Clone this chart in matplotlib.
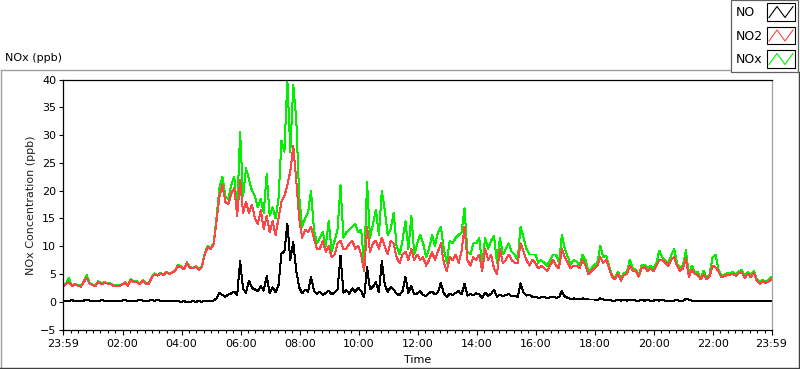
import matplotlib
matplotlib.use('Agg')
import matplotlib.pyplot as plt
import numpy as np
from matplotlib.lines import Line2D
from matplotlib.patches import Rectangle

# samples every 6 minutes, starting at 23:59
step_minutes = 6

no = [0.1, 0.2, 0.1, 0.3, 0.1, 0.2, 0.1, 0.2, 0.4, 0.2,
      0.1, 0.2, 0.1, 0.3, 0.2, 0.1, 0.2, 0.1, 0.2, 0.1,
      0.2, 0.3, 0.1, 0.2, 0.1, 0.2, 0.3, 0.2, 0.1, 0.2,
      0.3, 0.2, 0.3, 0.2, 0.1, 0.2, 0.2, 0.1, 0.2, 0.1,
      0.0, 0.1, -0.1, 0.0, 0.1, 0.0, 0.1, 0.0, 0.1, 0.2,
      0.1, 0.2, 0.6, 1.6, 1.2, 0.9, 1.3, 1.5, 1.8, 1.2,
      7.3, 2.3, 1.6, 3.8, 2.5, 2.2, 1.9, 2.8, 2.0, 4.6,
      1.5, 2.6, 1.7, 3.0, 8.7, 9.0, 14.0, 7.5, 10.7, 5.6,
      2.6, 1.5, 2.2, 1.8, 4.5, 2.0, 1.4, 1.8, 1.2, 1.6,
      2.0, 1.3, 1.7, 2.2, 8.3, 1.6, 2.1, 1.4, 2.4, 1.8,
      2.5, 1.9, 0.8, 6.2, 2.2, 2.7, 3.5, 1.7, 7.3, 3.0,
      1.8, 2.6, 2.2, 1.4, 1.2, 1.9, 4.5, 1.6, 2.8, 1.3,
      1.5, 1.9, 1.2, 1.0, 1.6, 1.8, 1.3, 1.7, 3.4, 1.5,
      0.9, 1.4, 1.2, 1.6, 1.9, 1.3, 3.2, 1.1, 1.4, 1.2,
      1.5, 1.3, 0.7, 1.6, 1.1, 1.4, 2.2, 0.9, 1.3, 1.0,
      1.2, 1.4, 1.0, 1.1, 0.8, 3.3, 1.6, 1.1, 1.3, 0.9,
      0.9, 0.7, 0.8, 0.9, 0.6, 0.8, 0.9, 0.7, 0.8, 1.9,
      0.9, 0.7, 0.5, 0.6, 0.5, 0.4, 0.6, 0.5, 0.4, 0.4,
      0.4, 0.3, 0.6, 0.4, 0.3, 0.3, 0.2, 0.2, 0.3, 0.2,
      0.3, 0.2, 0.4, 0.3, 0.2, 0.2, 0.3, 0.2, 0.3, 0.2,
      0.2, 0.3, 0.2, 0.3, 0.2, 0.2, 0.1, 0.2, 0.3, 0.1,
      0.2, 0.5, 0.4, 0.2, 0.1, 0.2, 0.1, 0.2, 0.1, 0.2,
      0.1, 0.2, 0.1, 0.1, 0.2, 0.1, 0.1, 0.2, 0.1, 0.1,
      0.2, 0.1, 0.1, 0.2, 0.1, 0.1, 0.1, 0.2, 0.1, 0.1, 0.1]

no2 = [2.8, 3.2, 3.6, 2.8, 3.1, 2.9, 2.7, 3.5, 4.3, 3.3,
       3.0, 2.8, 3.6, 3.1, 3.4, 3.3, 3.2, 2.9, 2.9, 2.8,
       3.0, 3.4, 2.9, 4.0, 3.5, 3.6, 3.1, 3.8, 3.3, 3.1,
       4.3, 4.9, 4.7, 5.1, 4.8, 5.3, 5.0, 5.2, 5.6, 6.4,
       6.3, 5.8, 7.0, 6.1, 6.0, 6.3, 5.7, 6.2, 8.5, 9.8,
       9.5, 10.3, 14.5, 19.0, 21.0, 18.0, 17.5, 19.5, 20.5, 15.5,
       22.0, 16.0, 18.0, 16.0, 17.5, 15.0, 14.0, 16.5, 13.0, 15.5,
       12.5, 14.5, 12.0, 15.0, 18.0, 19.0, 21.0, 23.5, 28.0, 22.0,
       15.0, 11.5, 13.0, 12.5, 13.5, 11.5, 9.5, 9.5, 11.0, 9.0,
       10.0, 8.0, 8.5, 10.5, 11.0, 9.5, 9.5, 10.5, 11.0, 9.5,
       10.0, 8.5, 5.5, 13.5, 9.0, 10.5, 11.0, 9.5, 11.5, 10.0,
       8.5, 11.0, 10.5, 8.0, 7.0, 8.5, 9.0, 7.5, 9.5, 7.5,
       8.5, 7.5, 8.0, 6.5, 7.5, 9.0, 7.5, 9.0, 10.5, 7.0,
       5.5, 8.0, 7.5, 8.5, 7.0, 9.0, 13.5, 7.5, 6.5, 8.0,
       7.5, 8.5, 5.5, 9.5, 7.5, 8.5, 6.0, 5.0, 9.5, 7.0,
       7.5, 8.5, 7.5, 7.0, 7.0, 10.5, 9.0, 7.5, 6.5, 7.5,
       7.0, 6.0, 6.5, 6.0, 5.5, 6.5, 7.5, 6.5, 6.0, 9.5,
       8.0, 7.0, 6.0, 6.5, 6.5, 6.0, 7.5, 6.5, 5.0, 5.5,
       6.0, 6.5, 8.0, 7.0, 7.5, 6.0, 4.5, 4.0, 5.0, 3.8,
       4.8, 5.0, 6.5, 5.5, 5.5, 4.5, 6.0, 6.3, 5.5, 6.0,
       5.5, 6.5, 7.5, 7.5, 7.0, 6.5, 7.5, 8.0, 6.5, 5.5,
       6.0, 7.8, 4.5, 5.8, 5.0, 4.8, 4.0, 5.0, 4.0, 4.5,
       6.5, 6.2, 5.5, 4.4, 4.6, 4.8, 4.9, 5.0, 4.6, 5.2,
       5.3, 4.3, 5.0, 4.4, 5.2, 3.8, 3.2, 3.7, 3.4, 3.6, 4.1]

nox = [2.9, 3.3, 4.2, 2.9, 3.2, 3.0, 2.8, 3.6, 4.8, 3.4,
       3.1, 2.9, 3.7, 3.2, 3.5, 3.4, 3.3, 3.0, 3.0, 2.9,
       3.1, 3.5, 3.0, 4.1, 3.6, 3.7, 3.2, 3.9, 3.4, 3.2,
       4.4, 5.1, 4.8, 5.2, 4.9, 5.4, 5.1, 5.3, 5.7, 6.6,
       6.4, 5.9, 7.1, 6.2, 6.1, 6.4, 5.8, 6.3, 8.7, 10.0,
       9.7, 10.5, 15.2, 20.5, 22.5, 19.0, 18.5, 21.0, 22.5, 16.5,
       30.5, 19.0, 24.0, 22.0, 20.0, 19.0, 17.0, 18.5, 16.0, 23.0,
       15.5, 17.0, 15.0, 18.5, 29.0, 27.0, 40.0, 27.0, 39.0, 33.0,
       19.0, 13.5, 15.0, 16.0, 20.0, 13.0, 10.5, 11.5, 12.5, 10.0,
       14.5, 9.0, 11.0, 13.0, 21.0, 11.5, 12.5, 13.0, 13.5, 14.0,
       12.5, 13.0, 6.5, 21.5, 11.5, 14.0, 16.5, 12.0, 20.0, 16.5,
       12.0, 13.0, 16.0, 10.0, 8.5, 11.0, 14.5, 9.5, 15.5, 8.5,
       10.5, 12.0, 10.5, 8.0, 9.5, 12.0, 10.0, 12.5, 13.5, 9.5,
       7.0, 11.0, 10.5, 11.5, 12.0, 12.5, 16.8, 9.0, 8.5, 10.5,
       10.5, 11.5, 6.5, 11.5, 9.5, 11.0, 11.8, 7.0, 11.5, 8.5,
       9.5, 10.5, 9.0, 8.5, 7.5, 13.5, 11.5, 9.5, 8.5, 8.5,
       8.5, 7.0, 7.5, 7.0, 6.5, 7.5, 8.5, 8.5, 7.0, 12.0,
       9.5, 8.0, 6.8, 7.5, 7.2, 6.5, 8.5, 7.5, 5.5, 6.0,
       6.6, 7.0, 10.0, 8.0, 8.3, 6.4, 4.8, 4.3, 5.4, 4.2,
       5.2, 5.3, 7.6, 6.0, 5.8, 4.8, 6.5, 6.7, 6.0, 6.5,
       6.0, 7.0, 9.2, 8.0, 7.5, 7.0, 8.3, 9.5, 6.9, 6.0,
       6.5, 9.3, 4.9, 6.5, 5.4, 5.3, 4.3, 5.6, 4.2, 4.9,
       7.9, 8.5, 5.9, 4.7, 4.9, 5.1, 5.2, 5.3, 4.9, 5.5,
       5.7, 4.6, 5.4, 4.7, 5.5, 4.1, 3.5, 3.9, 3.7, 3.9, 4.5]

tick_labels = ['23:59', '02:00', '04:00', '06:00', '08:00', '10:00', '12:00',
               '14:00', '16:00', '18:00', '20:00', '22:00', '23:59']

RED = '#ff4545'
GREEN = '#00f000'

hours = np.arange(len(no2)) * step_minutes / 60.0

fig = plt.figure(figsize=(8.0, 3.69), dpi=100)
fig.patch.set_facecolor('white')
plt.rcParams['font.family'] = 'DejaVu Sans'

ax = fig.add_axes([63 / 800, 1 - 329.5 / 369, 708.5 / 800, 250 / 369])
# crisp 1px traces (0.72 pt at 100 dpi), like the instrument software
ax.plot(hours, nox, color=GREEN, lw=0.72, antialiased=False)
ax.plot(hours, no2, color=RED, lw=0.72, antialiased=False)
ax.plot(hours, no, color='black', lw=0.72, antialiased=False)

ax.set_xlim(0, 24)
ax.set_ylim(-5, 40)
ax.set_yticks(np.arange(-5, 41, 5))
# major ticks on the even hours (axis starts at 23:59)
major = [0] + [h + 1 / 60 for h in range(2, 23, 2)] + [24]
ax.set_xticks(major)
ax.set_xticklabels(tick_labels)
ax.set_xticks([1 / 60 + 0.25 * k for k in range(96)], minor=True)
ax.tick_params(axis='x', which='major', length=3.6, width=0.8, labelsize=8, pad=3)
ax.tick_params(axis='x', which='minor', length=2.2, width=0.8)
ax.tick_params(axis='y', length=2.9, width=0.8, labelsize=8, pad=2)

for side in ['left', 'bottom', 'top']:
    ax.spines[side].set_color('black')
    ax.spines[side].set_linewidth(0.9)
ax.spines['right'].set_color('#a0a0a0')
ax.spines['right'].set_linewidth(0.9)

fig.text(31 / 800, 1 - 205 / 369, 'NOx Concentration (ppb)', rotation=90,
         ha='center', va='center', fontsize=8, color='#202020')
fig.text(418 / 800, 1 - 360 / 369, 'Time', ha='center', va='center', fontsize=8)
fig.text(5 / 800, 1 - 58 / 369, 'NOx (ppb)', ha='left', va='center', fontsize=8)

# outer frame of the graph panel
def fig_line(xs, ys, color, lw=1.0):
    fig.add_artist(Line2D([x / 800 for x in xs], [1 - y / 369 for y in ys],
                          color=color, lw=lw, transform=fig.transFigure))

fig_line([0.5, 730], [69.5, 69.5], '#a0a0a0')
fig_line([0.5, 0.5], [69.5, 368], '#a0a0a0')
fig_line([0, 799], [367.5, 367.5], '#404040')
fig_line([798.5, 798.5], [72, 368], '#404040')

# legend box
fig.add_artist(Rectangle((730.5 / 800, 1 - 71.5 / 369), 67.5 / 800, 71 / 369,
                         transform=fig.transFigure, facecolor='white',
                         edgecolor='#606060', lw=0.9))
legend_names = ['NO', 'NO2', 'NOx']
legend_colors = ['black', RED, GREEN]
for k, (name, col) in enumerate(zip(legend_names, legend_colors)):
    top = 3.5 + 23.5 * k
    fig.text(736 / 800, 1 - (top + 9) / 369, name, ha='left', va='center', fontsize=9)
    fig.add_artist(Rectangle((767 / 800, 1 - (top + 17) / 369), 28 / 800, 17 / 369,
                             transform=fig.transFigure, facecolor='white',
                             edgecolor='black', lw=0.8))
    fig_line([769, 777, 785, 793], [top + 14, top + 3, top + 14, top + 3], col, lw=0.8)

fig.savefig('out.png', dpi=100)
